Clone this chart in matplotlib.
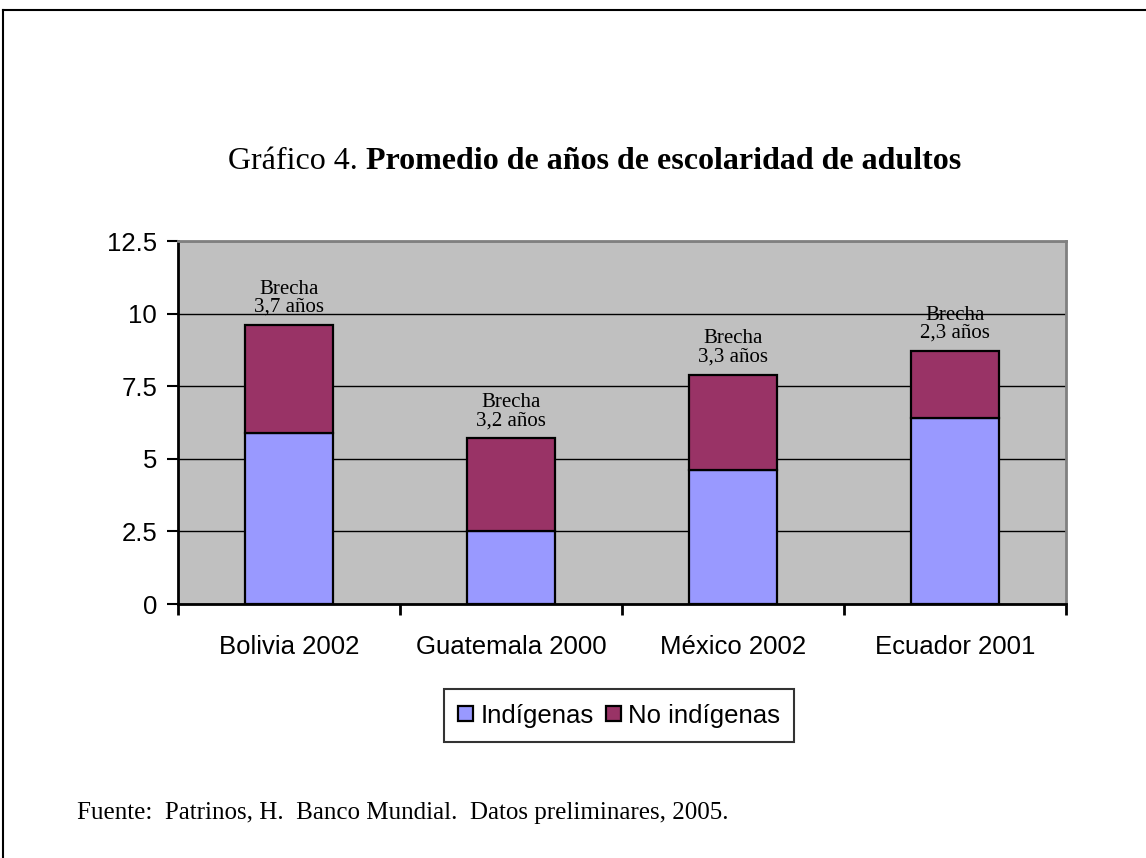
import numpy as np
import matplotlib.pyplot as plt
from matplotlib.lines import Line2D

# datos
paises = ['Bolivia 2002', 'Guatemala 2000', 'México 2002', 'Ecuador 2001']
indigenas = [5.9, 2.5, 4.6, 6.4]
brecha = [3.7, 3.2, 3.3, 2.3]   # no indígenas = indígenas + brecha
yticks = [0, 2.5, 5, 7.5, 10, 12.5]

c_ind = '#9999FF'
c_noind = '#993366'

fig = plt.figure(figsize=(11.46, 8.58), dpi=100)
ax = fig.add_axes([0.1553, 0.2960, 0.7749, 0.4231])
ax.set_facecolor('#C0C0C0')

x = np.arange(len(paises))
ax.bar(x, indigenas, width=0.4, color=c_ind, edgecolor='black', linewidth=1.6,
       label='Indígenas', zorder=3)
ax.bar(x, brecha, width=0.4, bottom=indigenas, color=c_noind, edgecolor='black',
       linewidth=1.6, label='No indígenas', zorder=3)

for i in range(len(paises)):
    top = indigenas[i] + brecha[i]
    ax.annotate('Brecha\n' + ('%.1f' % brecha[i]).replace('.', ',') + ' años',
                xy=(x[i], top), xytext=(0, 6), textcoords='offset points',
                ha='center', va='bottom', fontsize=15, family='Liberation Serif',
                linespacing=0.95, zorder=4)

ax.set_xlim(-0.5, len(paises) - 0.5)
ax.set_ylim(0, 12.5)
ax.set_yticks(yticks)
ax.set_yticklabels(['0', '2.5', '5', '7.5', '10', '12.5'])
ax.yaxis.grid(True, color='black', linewidth=1.0, zorder=1)
ax.set_axisbelow(True)

ax.set_xticks(x)
ax.set_xticklabels(paises)
ax.set_xticks(np.arange(-0.5, len(paises)), minor=True)
ax.tick_params(axis='x', which='major', length=0, pad=22)
ax.tick_params(axis='x', which='minor', length=8, width=2, direction='out')
ax.tick_params(axis='y', length=8, width=1.5, direction='out', pad=7)
for lab in ax.get_xticklabels() + ax.get_yticklabels():
    lab.set_fontfamily('Liberation Sans')
    lab.set_fontsize(18.5)

ax.spines['left'].set_linewidth(2)
ax.spines['bottom'].set_linewidth(2)
ax.spines['top'].set_color('#808080')
ax.spines['right'].set_color('#808080')
ax.spines['top'].set_linewidth(2)
ax.spines['right'].set_linewidth(2)

leg = ax.legend(loc='upper center', bbox_to_anchor=(0.497, -0.2), ncol=2,
                frameon=True, fancybox=False, edgecolor='black',
                prop={'family': 'Liberation Sans', 'size': 18.5},
                handlelength=0.55, handleheight=0.55, handletextpad=0.3,
                columnspacing=0.5, borderpad=0.55)
leg.get_frame().set_linewidth(1.5)

t1 = fig.text(0.199, 0.812, 'Gráfico 4. ', fontsize=23, family='Liberation Serif',
              ha='left', va='center')
fig.canvas.draw()
bb = t1.get_window_extent()
fig.text(bb.x1 / fig.bbox.width, 0.812,
         'Promedio de años de escolaridad de adultos', fontsize=23,
         family='Liberation Serif', weight='bold', ha='left', va='center')

fig.text(0.067, 0.052, 'Fuente:  Patrinos, H.  Banco Mundial.  Datos preliminares, 2005.',
         fontsize=18, family='Liberation Serif', ha='left', va='center')

# marco exterior
fig.add_artist(Line2D([0.003, 1.0], [0.988, 0.988], color='black', linewidth=1.5))
fig.add_artist(Line2D([0.003, 0.003], [0.0, 0.988], color='black', linewidth=1.5))

fig.savefig('out.png', dpi=100)
